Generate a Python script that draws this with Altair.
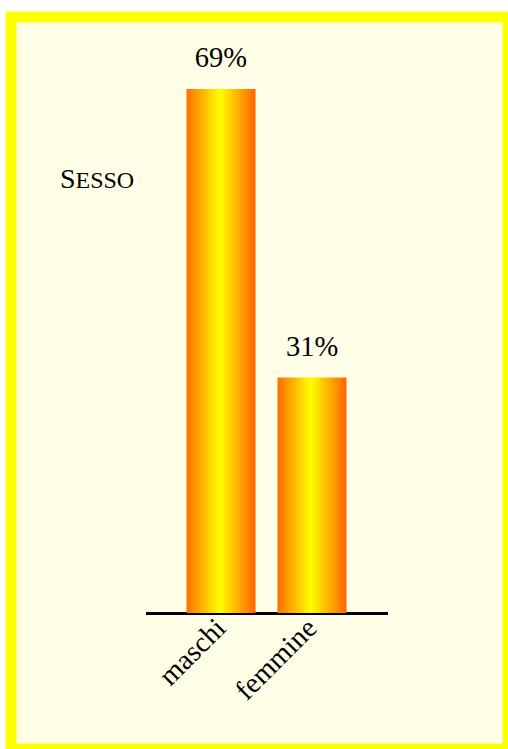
import altair as alt
import pandas as pd

# data
categories = ["maschi", "femmine"]
values = [69, 31]
title_first = "S"
title_rest = "ESSO"

df = pd.DataFrame({"categoria": categories, "valore": values})

SERIF = "Liberation Serif"

gradient = alt.Gradient(
    gradient="linear",
    x1=0, x2=1, y1=0, y2=0,
    stops=[
        alt.GradientStop(color="#FF6E00", offset=0),
        alt.GradientStop(color="#FFFF00", offset=0.48),
        alt.GradientStop(color="#FF6400", offset=1),
    ],
)

xscale = alt.Scale(domain=categories, range=[134.5, 376.5], paddingInner=0.2418, paddingOuter=0.4505)
yscale = alt.Scale(domain=[0, 69], range=[596, 72], nice=False, zero=True)

base = alt.Chart(df)

bars = base.mark_bar(color=gradient).encode(
    x=alt.X("categoria:N", scale=xscale, sort=categories,
            axis=alt.Axis(title=None, ticks=False, labelAngle=-45, labelAlign="right",
                          labelBaseline="middle", labelFont=SERIF, labelFontSize=28.5,
                          labelColor="black", domainColor="black", domainWidth=3,
                          labelPadding=10, offset=-136, grid=False)),
    y=alt.Y("valore:Q", scale=yscale, axis=None),
)

labels = base.transform_calculate(
    lab="datum.valore + '%'"
).mark_text(font=SERIF, fontSize=28.5, dy=-22, baseline="alphabetic", align="center", color="black").encode(
    x=alt.X("categoria:N", scale=xscale, sort=categories),
    y=alt.Y("valore:Q", scale=yscale),
    text="lab:N",
)

t1 = alt.Chart(pd.DataFrame({"t": [title_first]})).mark_text(
    font=SERIF, fontSize=28, align="left", baseline="alphabetic", color="black"
).encode(x=alt.value(49), y=alt.value(171), text="t:N")

t2 = alt.Chart(pd.DataFrame({"t": [title_rest]})).mark_text(
    font=SERIF, fontSize=24, align="left", baseline="alphabetic", color="black"
).encode(x=alt.value(64.5), y=alt.value(171), text="t:N")

chart = alt.layer(bars, labels, t1, t2).properties(
    width=497, height=732,
    autosize=alt.AutoSizeParams(type="none"),
    padding={"left": 11, "top": 17, "right": 0, "bottom": 0},
    background="white",
).configure_view(
    fill="#FFFFE8", stroke="#FFFF00", strokeWidth=11
)

chart.save("out.html", embed_options={"renderer": "svg", "actions": False})
